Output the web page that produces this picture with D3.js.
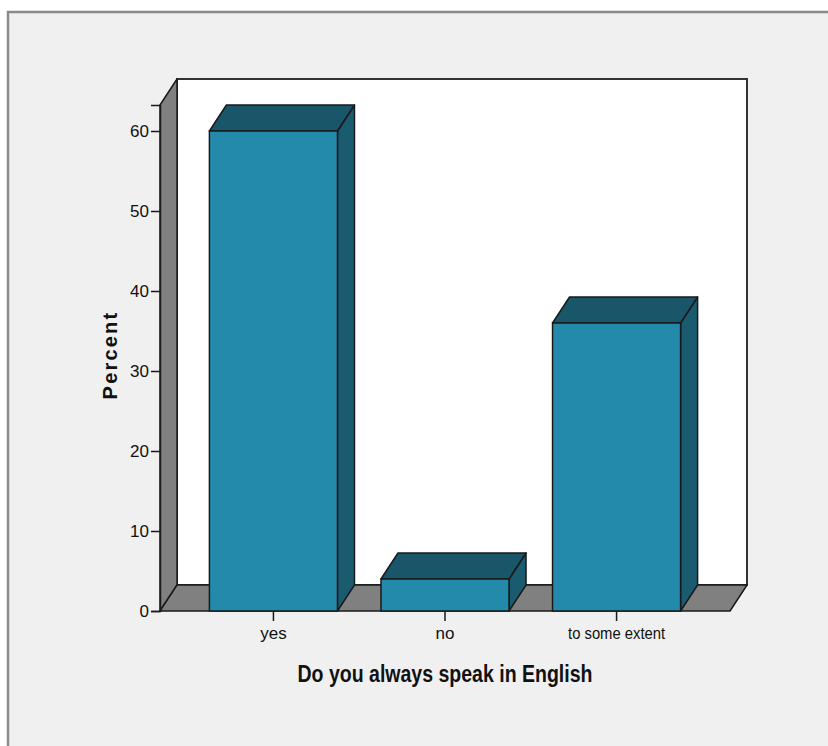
<!DOCTYPE html>
<html>
<head>
<meta charset="utf-8">
<script src="https://cdn.jsdelivr.net/npm/d3@7"></script>
<style>
  html, body { margin: 0; padding: 0; background: #ffffff; }
  svg { display: block; }
  .tick text { font-family: "Liberation Sans Narrow", "Liberation Sans", Arial, sans-serif; fill: #111; }
</style>
</head>
<body>
<svg id="chart" width="828" height="746"></svg>
<script>
// Survey answers and their share of respondents (%)
const categories = ["yes", "no", "to some extent"];
const percents = [60, 4, 36];
const yTicks = [0, 10, 20, 30, 40, 50, 60];
const xTitle = "Do you always speak in English";
const yTitle = "Percent";

const svg = d3.select("#chart");

// Panel frame
svg.append("rect")
  .attr("x", 8).attr("y", 12)
  .attr("width", 830).attr("height", 750)
  .attr("fill", "#f0f0f0")
  .attr("stroke", "#8a8a8a")
  .attr("stroke-width", 2.5);

// Front plane of the 3D box and its depth offset
const front = { left: 160, right: 730, bottom: 611 };
const depth = { dx: 17, dy: -26 };

const y = d3.scaleLinear().domain([0, 63.25]).range([front.bottom, 105]);
const x = d3.scaleBand()
  .domain(categories)
  .range([front.left, front.right])
  .paddingInner(0.2536)
  .paddingOuter(0.288);

const yTop = y.range()[1];
const stroke = "#1a1a1a";
const gray = "#808080";

// Back wall
svg.append("rect")
  .attr("x", front.left + depth.dx)
  .attr("y", yTop + depth.dy)
  .attr("width", front.right - front.left)
  .attr("height", front.bottom - yTop)
  .attr("fill", "#ffffff")
  .attr("stroke", "#333")
  .attr("stroke-width", 2);

const poly = pts => pts.map(p => p.join(",")).join(" ");

// Left wall
svg.append("polygon")
  .attr("points", poly([
    [front.left, yTop],
    [front.left + depth.dx, yTop + depth.dy],
    [front.left + depth.dx, front.bottom + depth.dy],
    [front.left, front.bottom]
  ]))
  .attr("fill", gray).attr("stroke", stroke).attr("stroke-width", 1.5)
  .attr("stroke-linejoin", "round");

// Floor
svg.append("polygon")
  .attr("points", poly([
    [front.left, front.bottom],
    [front.left + depth.dx, front.bottom + depth.dy],
    [front.right + depth.dx, front.bottom + depth.dy],
    [front.right, front.bottom]
  ]))
  .attr("fill", gray).attr("stroke", stroke).attr("stroke-width", 1.5)
  .attr("stroke-linejoin", "round");

// Bars: front, top and right faces
const bars = svg.append("g").selectAll("g")
  .data(categories.map((c, i) => ({ c, v: percents[i] })))
  .join("g");

bars.append("polygon") // right side
  .attr("points", d => {
    const x1 = x(d.c) + x.bandwidth(), yv = y(d.v);
    return poly([[x1, yv], [x1 + depth.dx, yv + depth.dy],
      [x1 + depth.dx, front.bottom + depth.dy], [x1, front.bottom]]);
  })
  .attr("fill", "#1b5b70").attr("stroke", stroke).attr("stroke-width", 1.5)
  .attr("stroke-linejoin", "round");

bars.append("polygon") // top
  .attr("points", d => {
    const x0 = x(d.c), x1 = x0 + x.bandwidth(), yv = y(d.v);
    return poly([[x0, yv], [x0 + depth.dx, yv + depth.dy],
      [x1 + depth.dx, yv + depth.dy], [x1, yv]]);
  })
  .attr("fill", "#1a566a").attr("stroke", stroke).attr("stroke-width", 1.5)
  .attr("stroke-linejoin", "round");

bars.append("rect") // front
  .attr("x", d => x(d.c))
  .attr("y", d => y(d.v))
  .attr("width", x.bandwidth())
  .attr("height", d => front.bottom - y(d.v))
  .attr("fill", "#238aab").attr("stroke", stroke).attr("stroke-width", 1.5);

// Axes
const yAxis = svg.append("g")
  .attr("transform", `translate(${front.left},0)`)
  .call(d3.axisLeft(y).tickValues(yTicks).tickSize(9).tickPadding(2).tickFormat(d3.format("d")));
yAxis.select(".domain").attr("stroke", stroke).attr("stroke-width", 1.5);
yAxis.selectAll(".tick line").attr("stroke", stroke).attr("stroke-width", 1.5);
yAxis.selectAll(".tick text").attr("font-size", 17);

const xAxis = svg.append("g")
  .attr("transform", `translate(0,${front.bottom})`)
  .call(d3.axisBottom(x).tickSize(10).tickPadding(6));
xAxis.select(".domain").remove();
xAxis.selectAll(".tick line").attr("stroke", stroke).attr("stroke-width", 1.5);
xAxis.selectAll(".tick text").attr("font-size", 17)
  .attr("textLength", d => d === "to some extent" ? 97 : null)
  .attr("lengthAdjust", "spacingAndGlyphs");

// Axis titles
svg.append("text")
  .attr("x", 445).attr("y", 682)
  .attr("text-anchor", "middle")
  .attr("font-family", "'Liberation Sans', Arial, sans-serif")
  .attr("font-weight", "bold")
  .attr("font-size", 23)
  .attr("textLength", 295).attr("lengthAdjust", "spacingAndGlyphs")
  .attr("fill", "#111")
  .text(xTitle);

svg.append("text")
  .attr("transform", "translate(117,355) rotate(-90)")
  .attr("text-anchor", "middle")
  .attr("font-family", "'Liberation Sans', Arial, sans-serif")
  .attr("font-weight", "bold")
  .attr("font-size", 20)
  .attr("letter-spacing", 2.2)
  .attr("fill", "#111")
  .text(yTitle);
</script>
</body>
</html>
